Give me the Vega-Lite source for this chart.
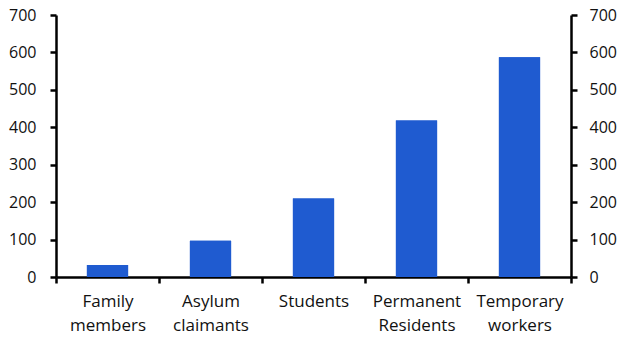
{
  "$schema": "https://vega.github.io/schema/vega-lite/v6.json",
  "autosize": {"type": "none"},
  "padding": {"left": 56, "top": 15, "right": 60, "bottom": 76},
  "width": 515,
  "height": 262,
  "config": {
    "view": {"stroke": null},
    "font": "Open Sans",
    "axis": {
      "domainColor": "#000",
      "domainWidth": 2.5,
      "tickColor": "#000",
      "tickWidth": 2.5,
      "tickSize": 6,
      "labelColor": "#111",
      "labelFontSize": 16,
      "labelFont": "Open Sans",
      "grid": false,
      "title": null
    }
  },
  "data": {
    "values": [
      {"category": "Family members", "value": 32},
      {"category": "Asylum claimants", "value": 97},
      {"category": "Students", "value": 210},
      {"category": "Permanent Residents", "value": 418},
      {"category": "Temporary workers", "value": 587}
    ]
  },
  "encoding": {
    "x": {
      "field": "category",
      "type": "nominal",
      "sort": null,
      "scale": {"paddingInner": 0, "paddingOuter": 0},
      "axis": {
        "labelAngle": 0,
        "tickBand": "extent",
        "labelPadding": 10,
        "labelFontSize": 17,
        "labelLineHeight": 24,
        "labelBaseline": "top",
        "labelExpr": "split(datum.label, ' ')"
      }
    }
  },
  "layer": [
    {
      "mark": {"type": "bar", "color": "#1f5bd0", "width": {"band": 0.4}},
      "encoding": {
        "y": {
          "field": "value",
          "type": "quantitative",
          "scale": {"domain": [0, 700], "nice": false},
          "axis": {"orient": "left", "values": [0, 100, 200, 300, 400, 500, 600, 700], "labelPadding": 14}
        }
      }
    },
    {
      "mark": {"type": "bar", "color": "#1f5bd0", "width": {"band": 0.4}},
      "encoding": {
        "y": {
          "field": "value",
          "type": "quantitative",
          "scale": {"domain": [0, 700], "nice": false},
          "axis": {"orient": "right", "values": [0, 100, 200, 300, 400, 500, 600, 700], "labelPadding": 12}
        }
      }
    }
  ],
  "resolve": {"axis": {"y": "independent"}}
}
